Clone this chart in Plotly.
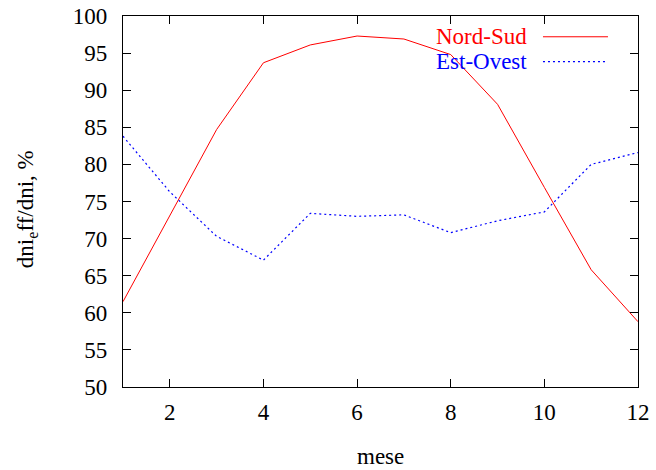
import plotly.graph_objects as go

months = [1, 2, 3, 4, 5, 6, 7, 8, 9, 10, 11, 12]
nord_sud = [61.5, 73.0, 84.7, 93.7, 96.1, 97.3, 96.9, 94.8, 88.1, 76.9, 65.8, 58.8]
est_ovest = [83.8, 76.3, 70.3, 67.1, 73.4, 73.0, 73.2, 70.8, 72.4, 73.6, 80.0, 81.6]

series_names = ["Nord-Sud", "Est-Ovest"]
x_title = "mese"
y_title = "dni<sub>e</sub>ff/dni, %"

FONT = "Liberation Serif"
RED = "#ff0000"
BLUE = "#0000ff"

fig = go.Figure()
fig.add_trace(go.Scatter(x=months, y=nord_sud, mode="lines", name=series_names[0],
                         line=dict(color=RED, width=1), showlegend=False))
fig.add_trace(go.Scatter(x=months, y=est_ovest, mode="lines", name=series_names[1],
                         line=dict(color=BLUE, width=1.2, dash="2px,3px"), showlegend=False))

axis_common = dict(showline=True, linecolor="black", linewidth=1.3, mirror="ticks",
                   ticks="inside", ticklen=8, tickwidth=1.3, tickcolor="black",
                   showgrid=False, zeroline=False, automargin=False,
                   tickfont=dict(family=FONT, size=23, color="black"))

fig.update_xaxes(range=[1, 12], dtick=2, tick0=0, ticklabelstandoff=4, **axis_common)
fig.update_yaxes(range=[50, 100], dtick=5, tick0=0, ticklabelstandoff=10, **axis_common)

# axis titles
fig.add_annotation(text=x_title, xref="paper", yref="paper", x=0.5, y=-0.188,
                   xanchor="center", yanchor="middle", showarrow=False,
                   font=dict(family=FONT, size=23, color="black"))
fig.add_annotation(text=y_title, xref="paper", yref="paper", x=-0.186, y=0.48,
                   xanchor="center", yanchor="middle", showarrow=False, textangle=-90,
                   font=dict(family=FONT, size=23, color="black"))

# gnuplot-style legend (text right, sample on the right)
legend_rows = [(series_names[0], RED, "solid", 1, 0.944), (series_names[1], BLUE, "2px,3px", 1.2, 0.877)]
for name, col, dash, w, yp in legend_rows:
    fig.add_annotation(text=name, xref="paper", yref="paper", x=0.7885, y=yp,
                       xanchor="right", yanchor="middle", showarrow=False,
                       font=dict(family=FONT, size=23, color=col))
    fig.add_shape(type="line", xref="paper", yref="paper", x0=0.8155, x1=0.9417,
                  y0=yp, y1=yp, line=dict(color=col, width=w, dash=dash))

fig.update_layout(width=656, height=470, margin=dict(l=123, r=18, t=16, b=83),
                  plot_bgcolor="white", paper_bgcolor="white",
                  font=dict(family=FONT, color="black"))

fig.write_html("out.html", config={"displayModeBar": False},
               post_script="document.body.style.margin='0px';document.body.style.overflow='hidden';")
